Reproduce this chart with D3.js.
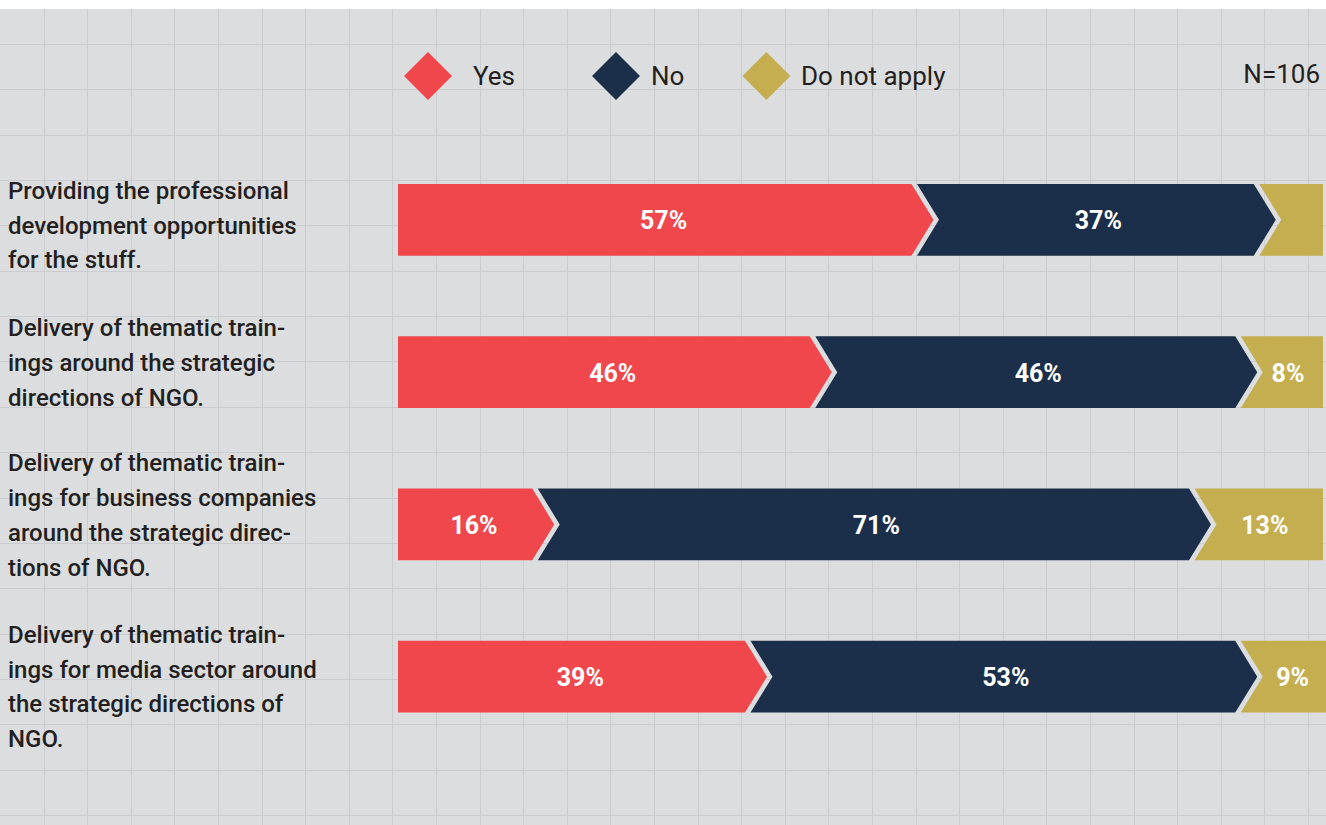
<!DOCTYPE html>
<html>
<head>
<meta charset="utf-8">
<script src="https://cdn.jsdelivr.net/npm/d3@7"></script>
<style>
  html, body { margin: 0; padding: 0; background: #ffffff; }
  svg { display: block; }
</style>
</head>
<body>
<svg id="chart" width="1326" height="825"></svg>
<script>
// ---- data ----
const categories = [
  "Providing the professional\ndevelopment opportunities\nfor the stuff.",
  "Delivery of thematic train-\nings around the strategic\ndirections of NGO.",
  "Delivery of thematic train-\nings for business companies\naround the strategic direc-\ntions of NGO.",
  "Delivery of thematic train-\nings for media sector around\nthe strategic directions of\nNGO."
];
const seriesNames = ["Yes", "No", "Do not apply"];
const yesValues = [57, 46, 16, 39];
const noValues = [37, 46, 71, 53];
const naValues = [6, 8, 13, 9];
const sampleLabel = "N=106";

// ---- layout / style ----
const W = 1326, H = 825;
const colors = ["#f0474d", "#1b2f4b", "#c5ae50"];
const bg = "#dcdddf", gridColor = "#cbccd0", textColor = "#231f20";
const svg = d3.select("#chart");

svg.append("rect").attr("x", 0).attr("y", 0).attr("width", W).attr("height", H).attr("fill", "#ffffff");
svg.append("rect").attr("x", 0).attr("y", 9).attr("width", W).attr("height", H - 9).attr("fill", bg);

// grid
const gx = d3.range(1, 31).map(k => k * 43.6);
const gy = d3.range(0, 18).map(k => 44 + k * 45.35);
const grid = svg.append("g").attr("stroke", gridColor).attr("stroke-width", 1).attr("shape-rendering", "crispEdges");
grid.selectAll("line.v").data(gx).join("line").attr("class", "v")
  .attr("x1", d => Math.round(d) + 0.5).attr("x2", d => Math.round(d) + 0.5).attr("y1", 9).attr("y2", H);
grid.selectAll("line.h").data(gy).join("line").attr("class", "h")
  .attr("x1", 0).attr("x2", W).attr("y1", d => Math.round(d) + 0.5).attr("y2", d => Math.round(d) + 0.5);

// scales
const x = d3.scaleLinear().domain([0, 100]).range([398, 1323]);
const y = d3.scaleBand().domain(categories).range([184, 712.6]).paddingInner(0.529).paddingOuter(0);

const rows = categories.map((c, i) => {
  const vals = [yesValues[i], noValues[i], naValues[i]];
  let cum = 0;
  return { cat: c, segs: vals.map((v, j) => { const s = { j, v, x0: cum, x1: cum + v }; cum += v; return s; }) };
});

const depth = 22, half = depth / 2, gap = 2.75;
function segPath(s, top, bh) {
  const mid = top + bh / 2, bot = top + bh;
  const first = s.j === 0, last = s.j === 2;
  const L = x(s.x0) + gap, R = x(s.x1) - gap;
  const pts = [];
  if (first) { pts.push([x(s.x0), top]); }
  else { pts.push([L - half, top]); }
  if (last) { pts.push([x(s.x1), top]); pts.push([x(s.x1), bot]); }
  else { pts.push([R - half, top]); pts.push([R + half, mid]); pts.push([R - half, bot]); }
  if (first) { pts.push([x(s.x0), bot]); }
  else { pts.push([L - half, bot]); pts.push([L + half, mid]); }
  return "M" + pts.map(p => p.join(",")).join("L") + "Z";
}

const rowG = svg.append("g").selectAll("g.row").data(rows).join("g").attr("class", "row");
rowG.each(function(r) {
  const g = d3.select(this);
  const top = y(r.cat), bh = y.bandwidth();
  g.selectAll("path").data(r.segs).join("path")
    .attr("d", s => segPath(s, top, bh))
    .attr("fill", s => colors[s.j]);
  g.selectAll("text.val").data(r.segs.filter(s => s.v >= 7)).join("text")
    .attr("class", "val")
    .attr("x", s => (x(s.x0) + x(s.x1)) / 2 + 2)
    .attr("y", top + bh / 2 + 9.5)
    .attr("text-anchor", "middle")
    .attr("fill", "#ffffff")
    .attr("font-family", "Roboto, sans-serif")
    .attr("font-weight", 700)
    .attr("font-size", 25)
    .text(s => s.v + "%");
});

// category labels
const firstBaselineOffset = [-21, -36, -53, -34];
categories.forEach((c, i) => {
  const lines = c.split("\n");
  const cy = y(c) + y.bandwidth() / 2;
  const t = svg.append("text")
    .attr("font-family", "Roboto, sans-serif")
    .attr("font-weight", 500)
    .attr("font-size", 24)
    .attr("fill", textColor);
  lines.forEach((ln, k) => {
    t.append("tspan").attr("x", 8).attr("y", cy + firstBaselineOffset[i] + k * 34.8).text(ln);
  });
});

// legend
const legendX = [428, 616, 766.5];
const legendTextX = [473, 651, 801];
const leg = svg.append("g");
seriesNames.forEach((n, i) => {
  const cx = legendX[i], cy = 76, r = 24;
  leg.append("path").attr("d", `M${cx},${cy - r}L${cx + r},${cy}L${cx},${cy + r}L${cx - r},${cy}Z`).attr("fill", colors[i]);
  leg.append("text").attr("x", legendTextX[i]).attr("y", 85)
    .attr("font-family", "Roboto, sans-serif").attr("font-size", 26).attr("fill", textColor).text(n);
});
svg.append("text").attr("x", 1320).attr("y", 83).attr("text-anchor", "end")
  .attr("font-family", "Roboto, sans-serif").attr("font-size", 26).attr("fill", textColor).text(sampleLabel);
</script>
</body>
</html>
